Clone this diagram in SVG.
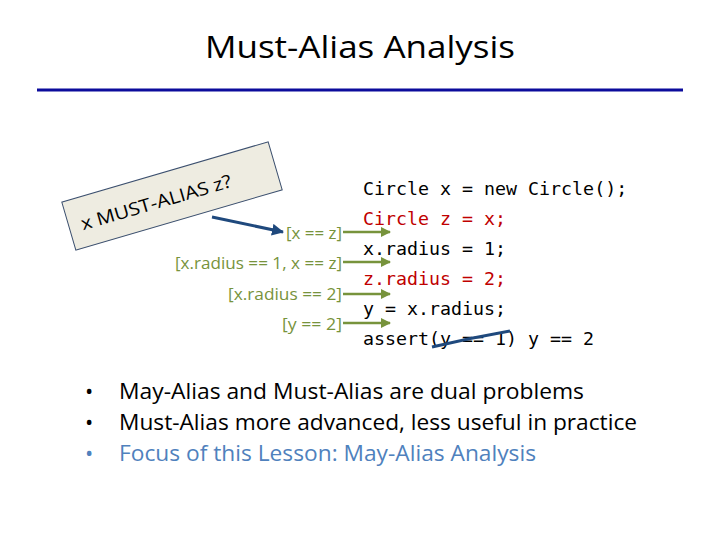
<svg xmlns="http://www.w3.org/2000/svg" width="720" height="540" viewBox="0 0 720 540">
<defs>
<style>
.title{font-family:"Open Sans","Liberation Sans",sans-serif;font-size:31px;fill:#000}
.lbl{font-family:"Open Sans","Liberation Sans",sans-serif;font-size:16.5px;fill:#77933C;text-anchor:end}
.code{font-family:"DejaVu Sans Mono","Liberation Mono",monospace;font-size:18.3px;fill:#000}
.red{fill:#C00000}
.bul{font-family:"Open Sans","Liberation Sans",sans-serif;font-size:22px;fill:#000}
.blue{fill:#4F81BD}
.garrow{stroke:#77933C;stroke-width:2.5;fill:none}
</style>
<marker id="gh" markerWidth="10" markerHeight="10" refX="9" refY="5" orient="auto" markerUnits="userSpaceOnUse" viewBox="0 0 10 10">
<path d="M0,0 L10,5 L0,10 Z" fill="#77933C"/>
</marker>
<marker id="bh" markerWidth="12" markerHeight="12" refX="11" refY="6" orient="auto" markerUnits="userSpaceOnUse" viewBox="0 0 12 12">
<path d="M0,0 L12,6 L0,12 Z" fill="#1F497D"/>
</marker>
</defs>
<rect width="720" height="540" fill="#fff"/>
<g id="title">
<text class="title" x="360" y="58" text-anchor="middle" textLength="310" lengthAdjust="spacingAndGlyphs">Must-Alias Analysis</text>
<line x1="37" y1="90" x2="683" y2="90" stroke="#0C0C9C" stroke-width="3"/>
</g>
<g id="question">
<g transform="translate(172,196) rotate(-16.3)">
<rect x="-107.5" y="-25" width="215" height="50" fill="#EEECE1" stroke="#3B4F6E" stroke-width="1"/>
<text x="-17" y="8" font-family="Open Sans, Liberation Sans, sans-serif" font-size="18" text-anchor="middle" fill="#000" textLength="156" lengthAdjust="spacingAndGlyphs">x  MUST-ALIAS z?</text>
</g>
</g>
<g id="labels">
<text class="lbl" x="342" y="239" textLength="56" lengthAdjust="spacingAndGlyphs">[x == z]</text>
<text class="lbl" x="342" y="269" textLength="167" lengthAdjust="spacingAndGlyphs">[x.radius == 1, x == z]</text>
<text class="lbl" x="342" y="300" textLength="114" lengthAdjust="spacingAndGlyphs">[x.radius == 2]</text>
<text class="lbl" x="342" y="330" textLength="60" lengthAdjust="spacingAndGlyphs">[y == 2]</text>
</g>
<g id="code">
<text class="code" x="363" y="195">Circle x = new Circle();</text>
<text class="code red" x="363" y="225">Circle z = x;</text>
<text class="code" x="363" y="255">x.radius = 1;</text>
<text class="code red" x="363" y="285">z.radius = 2;</text>
<text class="code" x="363" y="315">y = x.radius;</text>
<text class="code" x="363" y="345">assert(y == 1) y == 2</text>
</g>
<g id="connectors">
<line class="garrow" x1="343" y1="232" x2="390" y2="232" marker-end="url(#gh)"/>
<line class="garrow" x1="343" y1="262" x2="390" y2="262" marker-end="url(#gh)"/>
<line class="garrow" x1="343" y1="294" x2="390" y2="294" marker-end="url(#gh)"/>
<line class="garrow" x1="343" y1="323" x2="390" y2="323" marker-end="url(#gh)"/>
<line x1="212" y1="217" x2="283" y2="232" stroke="#1F497D" stroke-width="3" marker-end="url(#bh)"/>
<path d="M432,347 Q470,338 510,331" stroke="#1F497D" stroke-width="3" fill="none"/>
</g>
<g id="bullets">
<text class="bul" x="85" y="399">•</text>
<text class="bul" x="119" y="399" textLength="465" lengthAdjust="spacingAndGlyphs">May-Alias and Must-Alias are dual problems</text>
<text class="bul" x="85" y="430">•</text>
<text class="bul" x="119" y="430" textLength="518" lengthAdjust="spacingAndGlyphs">Must-Alias more advanced, less useful in practice</text>
<text class="bul blue" x="85" y="461">•</text>
<text class="bul blue" x="119" y="461" textLength="417" lengthAdjust="spacingAndGlyphs">Focus of this Lesson: May-Alias Analysis</text>
</g>
</svg>
